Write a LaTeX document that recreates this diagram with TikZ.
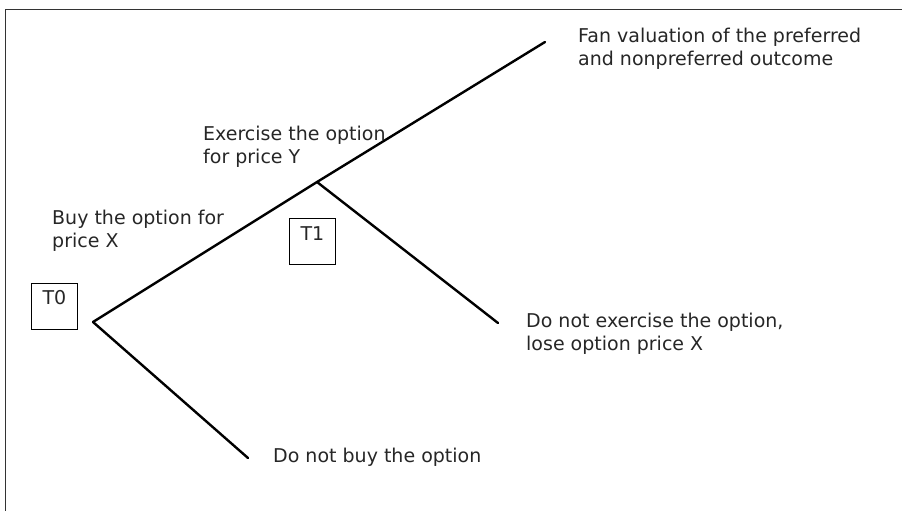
\documentclass[tikz,border=0pt]{standalone}
\usepackage{fontspec}
\setmainfont{DejaVu Sans}
\begin{document}
\begin{tikzpicture}[x=1pt,y=-1pt,
  branch/.style={line width=2.4pt, line cap=round},
  tbox/.style={draw, line width=0.9pt, minimum width=46pt, minimum height=46pt, inner sep=0pt, anchor=north west},
  tlbl/.style={anchor=base, inner sep=0pt, font=\fontsize{19}{23}\selectfont, text=black!85},
  lbl/.style={anchor=base west, align=left, inner sep=0pt, font=\fontsize{19}{23}\selectfont, text=black!85}]
\useasboundingbox (0,0) rectangle (902,511);
\draw[line width=1pt, black!80] (5,511) -- (5,10) -- (902,10);
\coordinate (t0) at (93,322);
\coordinate (t1) at (317,182);
\coordinate (fan) at (545,42);
\coordinate (noex) at (498,323);
\coordinate (nobuy) at (248,458);
\draw[branch] (t0) -- (t1) -- (fan);
\draw[branch] (t1) -- (noex);
\draw[branch] (t0) -- (nobuy);
\node[tbox] (b0) at (31,283) {};
\node[tlbl] (b0t) at ([yshift=-21pt]b0.north) {T0};
\node[tbox] (b1) at (289,218) {};
\node[tlbl] (b1t) at ([yshift=-22pt]b1.north) {T1};
\node[lbl] (lfan) at (578,66) {Fan valuation of the preferred\\and nonpreferred outcome};
\node[lbl] (lex) at (203,163) {Exercise the option\\for price Y};
\node[lbl] (lbuy) at (52,247) {Buy the option for\\price X};
\node[lbl] (lnoex) at (526,350) {Do not exercise the option,\\lose option price X};
\node[lbl] (lnobuy) at (273,462) {Do not buy the option};
\end{tikzpicture}
\end{document}
